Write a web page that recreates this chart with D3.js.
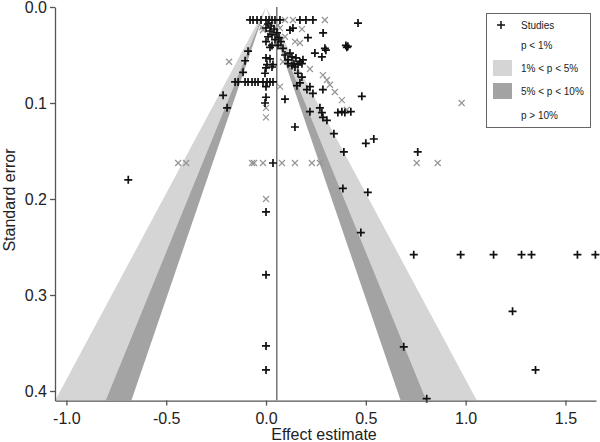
<!DOCTYPE html>
<html><head><meta charset="utf-8">
<script src="https://cdn.jsdelivr.net/npm/d3@7"></script>
<style>body{margin:0;background:#fff}svg{display:block;font-family:"Liberation Sans",Arial,sans-serif}</style>
</head><body><svg id="c" width="600" height="442"></svg>
<script>
// black "+" studies: [effect, standard error]
const studies = [
[-0.080,0.0135],[-0.065,0.0135],[-0.045,0.0135],[-0.025,0.0135],[0.000,0.0135],[0.015,0.0135],[0.030,0.0135],[0.045,0.0135],[0.070,0.0135],[0.170,0.0135],[0.200,0.0135],[0.235,0.0135],
[0.461,0.0167],[0.286,0.027],
[0.010,0.0177],[0.025,0.0198],[0.000,0.0219],[0.040,0.0229],[0.020,0.025],[0.055,0.027],[0.030,0.029],[0.010,0.031],[0.065,0.032],[0.045,0.034],[0.000,0.036],[0.030,0.040],[0.020,0.042],[0.060,0.040],[0.075,0.036],
[0.120,0.024],[0.135,0.022],[0.210,0.032],[0.085,0.043],[0.120,0.048],[0.095,0.050],[0.130,0.052],[0.110,0.055],[0.150,0.053],[0.170,0.057],[0.185,0.055],[0.140,0.059],[0.110,0.059],[0.130,0.061],[0.145,0.0625],[0.160,0.060],[0.180,0.059],
[0.400,0.040],[0.410,0.041],[0.405,0.042],
[0.245,0.048],[0.300,0.045],[0.280,0.052],[0.295,0.043],
[-0.090,0.046],[-0.105,0.056],[-0.115,0.068],
[0.000,0.053],[0.020,0.054],[0.005,0.060],[0.035,0.060],[0.000,0.0635],[0.030,0.0625],[-0.005,0.069],
[-0.155,0.078],[-0.140,0.078],[-0.105,0.078],[-0.090,0.078],[-0.070,0.078],[-0.055,0.078],[-0.040,0.078],[-0.015,0.078],[0.005,0.078],[0.020,0.078],[0.035,0.078],
[0.000,0.083],[0.000,0.094],[-0.005,0.100],
[-0.215,0.092],[-0.195,0.105],
[0.095,0.096],[0.145,0.125],
[0.160,0.069],[0.180,0.073],[0.170,0.079],[0.155,0.082],[0.205,0.086],[0.220,0.083],[0.235,0.090],[0.285,0.086],[0.480,0.093],[0.220,0.109],[0.270,0.105],[0.280,0.110],[0.285,0.115],[0.360,0.110],[0.395,0.110],[0.425,0.109],[0.380,0.109],
[0.305,0.118],[0.340,0.132],[0.390,0.151],[0.500,0.142],[0.540,0.1375],[0.760,0.151],[0.385,0.189],[0.510,0.193],[0.475,0.235],
[0.035,0.1625],[-0.690,0.180],
[0.000,0.2135],[0.000,0.279],[0.000,0.353],[0.000,0.378],
[0.740,0.258],[0.975,0.258],[1.140,0.258],[1.280,0.258],[1.330,0.258],[1.560,0.258],[1.650,0.258],
[1.235,0.317],[0.690,0.354],[1.350,0.378],[0.805,0.408]
];
// grey "x" markers: [effect, standard error]
const others = [
[0.095,0.0135],[0.135,0.0135],[0.295,0.0135],[0.180,0.023],[0.070,0.022],[0.095,0.031],[0.145,0.036],[0.170,0.0375],[0.085,0.057],[0.220,0.0646],[-0.185,0.057],
[0.000,0.105],[0.000,0.115],[0.070,0.083],[0.285,0.071],[0.305,0.076],[0.320,0.081],[0.345,0.0885],[0.380,0.097],[0.405,0.107],[0.980,0.100],
[-0.440,0.1625],[-0.400,0.1625],[-0.070,0.1625],[-0.060,0.1625],[-0.015,0.1625],[0.080,0.1625],[0.145,0.1625],[0.230,0.1625],[0.270,0.1625],[0.755,0.1625],[0.860,0.1625],
[0.000,0.200],[-0.015,0.024],[-0.020,0.021],[0.060,0.019]
];
const xTicks = [-1.0,-0.5,0.0,0.5,1.0,1.5];
const yTicks = [0.0,0.1,0.2,0.3,0.4];
const zLevels = [2.576, 1.96, 1.645];   // 1%, 5%, 10% contours
const funnelCentre = 0;
const effectLine = 0.054;
const seMax = 0.41;
const legendItems = ["Studies","p < 1%","1% < p < 5%","5% < p < 10%","p > 10%"];

const svg = d3.select("#c");
const x = d3.scaleLinear().domain([-1.057,1.653]).range([55,596]);
const y = d3.scaleLinear().domain([0,seMax]).range([7,400.6]);

svg.append("clipPath").attr("id","pc").append("rect")
  .attr("x",55).attr("y",0).attr("width",541).attr("height",400.6);
const g = svg.append("g").attr("clip-path","url(#pc)");
const line = d3.line().x(d=>x(d[0])).y(d=>y(d[1]));
function band(zOuter, zInner, side){
  return [[funnelCentre,0],[funnelCentre+side*zOuter*seMax,seMax],[funnelCentre+side*zInner*seMax,seMax],[funnelCentre,0]];
}
[-1,1].forEach(s=>{
  g.append("path").attr("d",line(band(zLevels[0],zLevels[1],s))).attr("fill","#d5d5d5");
  g.append("path").attr("d",line(band(zLevels[1],zLevels[2],s))).attr("fill","#a3a3a3");
});
g.append("line").attr("x1",x(effectLine)).attr("x2",x(effectLine))
  .attr("y1",y(0)).attr("y2",y(seMax)).attr("stroke","#6a6a6a").attr("stroke-width",1.4);

const crossX = "M-3,-3L3,3M-3,3L3,-3";
const plus = "M-4,0H4M0,-4V4";
svg.append("g").selectAll("path").data(others).join("path")
  .attr("d",crossX).attr("transform",d=>`translate(${x(d[0])},${y(d[1])})`)
  .attr("stroke","#959595").attr("stroke-width",1.2).attr("fill","none");
svg.append("g").selectAll("path").data(studies).join("path")
  .attr("d",plus).attr("transform",d=>`translate(${x(d[0])},${y(d[1])})`)
  .attr("stroke","#111").attr("stroke-width",1.7).attr("fill","none");

const fmt = d=>d.toFixed(1);
const xa = svg.append("g").attr("transform","translate(0,400.6)")
  .call(d3.axisBottom(x).tickValues(xTicks).tickFormat(fmt).tickSize(5).tickSizeOuter(0));
const ya = svg.append("g").attr("transform","translate(55,0)")
  .call(d3.axisLeft(y).tickValues(yTicks).tickFormat(fmt).tickSize(5).tickSizeOuter(0));
[xa,ya].forEach(a=>{
  a.select(".domain").attr("stroke","#555").attr("stroke-width",1.3);
  a.selectAll(".tick line").attr("stroke","#555").attr("stroke-width",1.3);
  a.selectAll("text").attr("font-size",16).attr("fill","#222").attr("font-family","Liberation Sans, Arial, sans-serif");
});
xa.selectAll("text").attr("dy","0.95em").attr("y",8);
ya.selectAll("text").attr("x",-8);

svg.append("text").attr("x",324).attr("y",440).attr("text-anchor","middle")
  .attr("font-size",16).attr("fill","#222").text("Effect estimate");
svg.append("text").attr("transform","translate(15,200) rotate(-90)").attr("text-anchor","middle")
  .attr("font-size",16).attr("fill","#222").text("Standard error");

// legend
const lg = svg.append("g");
lg.append("rect").attr("x",486.5).attr("y",13.5).attr("width",104).attr("height",114)
  .attr("fill","#fff").attr("stroke","#666").attr("stroke-width",1);
const rowsY = [25,45,68,91,115];
legendItems.forEach((t,i)=>{
  lg.append("text").attr("x",521).attr("y",rowsY[i]).attr("dy","0.35em")
    .attr("font-size",10).attr("fill","#222").text(t);
});
lg.append("path").attr("d",plus).attr("transform","translate(501,25)").attr("stroke","#111").attr("stroke-width",1.5);
lg.append("rect").attr("x",493).attr("y",60).attr("width",19).attr("height",16).attr("fill","#d5d5d5");
lg.append("rect").attr("x",493).attr("y",83).attr("width",19).attr("height",16).attr("fill","#a3a3a3");
</script></body></html>
